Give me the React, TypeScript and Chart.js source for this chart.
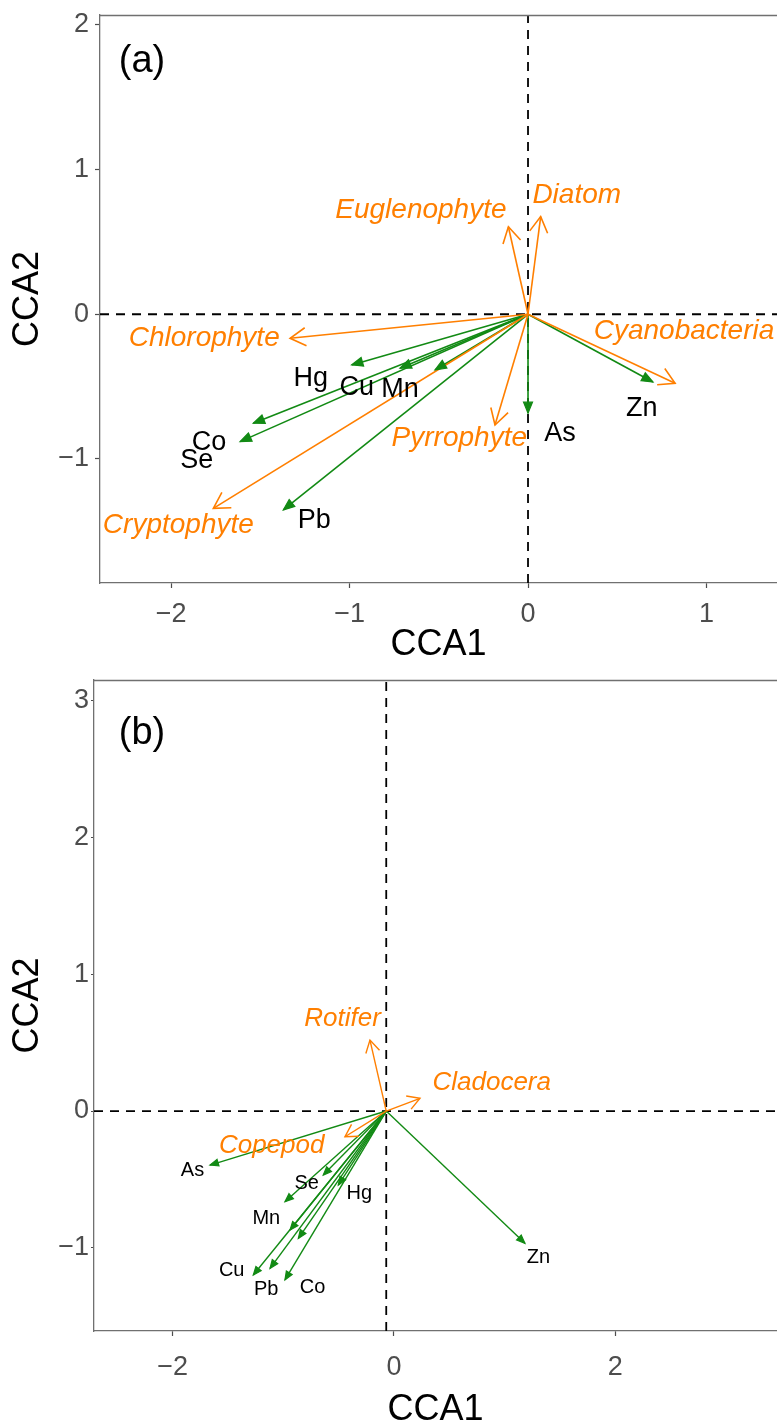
import React, { useEffect, useRef } from 'react';
import { Chart, registerables } from 'chart.js';

Chart.register(...registerables);

// ---------------- Panel (a): phytoplankton ----------------
const A_SPECIES_NAMES = ['Diatom', 'Euglenophyte', 'Cyanobacteria', 'Chlorophyte', 'Cryptophyte', 'Pyrrophyte'];
const A_SPECIES_X = [0.071, -0.110, 0.824, -1.333, -1.763, -0.185];
const A_SPECIES_Y = [0.675, 0.605, -0.477, -0.166, -1.341, -0.765];
const A_SPECIES_LABEL_X = [0.273, -0.600, 0.874, -1.814, -1.959, -0.385];
const A_SPECIES_LABEL_Y = [0.825, 0.721, -0.120, -0.166, -1.456, -0.855];

const A_ENV_NAMES = ['Hg', 'Cu', 'Mn', 'Co', 'Se', 'Pb', 'As', 'Zn'];
const A_ENV_X = [-0.988, -0.717, -0.521, -1.539, -1.613, -1.371, 0.0, 0.700];
const A_ENV_Y = [-0.350, -0.373, -0.385, -0.753, -0.880, -1.352, -0.684, -0.468];
const A_ENV_LABEL_X = [-1.217, -0.960, -0.717, -1.787, -1.856, -1.197, 0.179, 0.637];
const A_ENV_LABEL_Y = [-0.447, -0.509, -0.523, -0.886, -1.014, -1.422, -0.822, -0.650];

// ---------------- Panel (b): zooplankton ----------------
const B_SPECIES_NAMES = ['Rotifer', 'Cladocera', 'Copepod'];
const B_SPECIES_X = [-0.217, 0.235, -0.443];
const B_SPECIES_Y = [0.519, 0.093, -0.188];
const B_SPECIES_LABEL_X = [-0.465, 0.883, -1.105];
const B_SPECIES_LABEL_Y = [0.673, 0.208, -0.255];

const B_ENV_NAMES = ['As', 'Se', 'Hg', 'Mn', '', '', 'Cu', 'Pb', 'Co', 'Zn'];
const B_ENV_X = [-1.662, -0.639, -0.503, -0.985, -0.939, -0.864, -1.271, -1.120, -0.985, 1.183];
const B_ENV_Y = [-0.395, -0.468, -0.541, -0.663, -0.870, -0.931, -1.199, -1.150, -1.235, -0.967];
const B_ENV_LABEL_X = [-1.820, -0.789, -0.314, -1.153, -0.939, -0.864, -1.466, -1.155, -0.736, 1.304];
const B_ENV_LABEL_Y = [-0.435, -0.529, -0.602, -0.789, -0.870, -0.931, -1.168, -1.306, -1.290, -1.067];

const B_ORIGIN_X = -0.07;

const ORANGE = '#FF7F00';
const GREEN = '#128A14';
const BORDER = '#707070';
const TICK = '#4D4D4D';
const FAMILY = '"Liberation Sans", Arial, Helvetica, sans-serif';

type ArrowSet = { names: string[]; x: number[]; y: number[]; lx: number[]; ly: number[] };

interface PanelCfg {
  top: number;
  height: number;
  xMin: number; xMax: number; yMin: number; yMax: number;
  xStep: number; yStep: number;
  originX: number; originY: number;
  species: ArrowSet;
  env: ArrowSet;
  tag: string; tagX: number; tagY: number;
  padTop: number; yAxisWidth: number; xAxisHeight: number;
  speciesFont: number; envFont: number;
  speciesHead: number; envHead: number;
  lineWidth: number;
  xTickPad: number; yTickPad: number; yTickLen: number;
  xTitlePadBottom: number;
}

const fmt = (v: any) => {
  const n = Number(v);
  return n < 0 ? '\u2212' + Math.abs(n) : String(n);
};

function drawHead(ctx: CanvasRenderingContext2D, x0: number, y0: number, x1: number, y1: number,
  len: number, angleDeg: number, closed: boolean, color: string, lw: number) {
  const a = Math.atan2(y1 - y0, x1 - x0);
  const t = (angleDeg * Math.PI) / 180;
  const xa = x1 - len * Math.cos(a - t);
  const ya = y1 - len * Math.sin(a - t);
  const xb = x1 - len * Math.cos(a + t);
  const yb = y1 - len * Math.sin(a + t);
  ctx.beginPath();
  ctx.moveTo(xa, ya);
  ctx.lineTo(x1, y1);
  ctx.lineTo(xb, yb);
  if (closed) {
    ctx.closePath();
    ctx.fillStyle = color;
    ctx.fill();
  }
  ctx.strokeStyle = color;
  ctx.lineWidth = lw;
  ctx.lineJoin = 'miter';
  ctx.stroke();
}

const zeroPad = (s: any) => {
  s.paddingTop = 0;
  s.paddingBottom = 0;
  s.paddingLeft = 0;
  s.paddingRight = 0;
};

function Panel({ cfg }: { cfg: PanelCfg }) {
  const ref = useRef<HTMLCanvasElement>(null);
  useEffect(() => {
    const canvas = ref.current;
    if (!canvas) return;
    const { species, env } = cfg;
    const datasets: any[] = [];
    const dashed = { borderColor: '#000', borderWidth: 1.8, borderDash: [9, 7], showLine: true, pointRadius: 0, order: 30 };
    datasets.push({ ...dashed, data: [{ x: cfg.xMin, y: cfg.originY }, { x: cfg.xMax, y: cfg.originY }] });
    datasets.push({ ...dashed, data: [{ x: cfg.originX, y: cfg.yMin }, { x: cfg.originX, y: cfg.yMax }] });
    env.x.forEach((vx, i) => {
      datasets.push({
        data: [{ x: cfg.originX, y: cfg.originY }, { x: vx, y: env.y[i] }],
        borderColor: GREEN, borderWidth: cfg.lineWidth, showLine: true, pointRadius: 0, order: 20,
      });
    });
    species.x.forEach((vx, i) => {
      datasets.push({
        data: [{ x: cfg.originX, y: cfg.originY }, { x: vx, y: species.y[i] }],
        borderColor: ORANGE, borderWidth: cfg.lineWidth, showLine: true, pointRadius: 0, order: 10,
      });
    });

    const plugin = {
      id: 'biplotDecor',
      afterDatasetsDraw(chart: any) {
        const { ctx, chartArea } = chart;
        const xs = chart.scales.x;
        const ys = chart.scales.y;
        ctx.save();
        // top border
        ctx.strokeStyle = BORDER;
        ctx.lineWidth = 1.3;
        ctx.beginPath();
        ctx.moveTo(chartArea.left, chartArea.top + 0.5);
        ctx.lineTo(chartArea.right, chartArea.top + 0.5);
        ctx.stroke();
        const ox = xs.getPixelForValue(cfg.originX);
        const oy = ys.getPixelForValue(cfg.originY);
        env.x.forEach((vx, i) => {
          const px = xs.getPixelForValue(vx);
          const py = ys.getPixelForValue(env.y[i]);
          drawHead(ctx, ox, oy, px, py, cfg.envHead, 22, true, GREEN, 1.2);
        });
        species.x.forEach((vx, i) => {
          const px = xs.getPixelForValue(vx);
          const py = ys.getPixelForValue(species.y[i]);
          drawHead(ctx, ox, oy, px, py, cfg.speciesHead, 30, false, ORANGE, cfg.lineWidth);
        });
        ctx.textAlign = 'center';
        ctx.textBaseline = 'middle';
        ctx.fillStyle = ORANGE;
        ctx.font = `italic ${cfg.speciesFont}px ${FAMILY}`;
        species.names.forEach((n, i) => {
          if (!n) return;
          ctx.fillText(n, xs.getPixelForValue(species.lx[i]), ys.getPixelForValue(species.ly[i]));
        });
        ctx.fillStyle = '#000';
        ctx.font = `${cfg.envFont}px ${FAMILY}`;
        env.names.forEach((n, i) => {
          if (!n) return;
          ctx.fillText(n, xs.getPixelForValue(env.lx[i]), ys.getPixelForValue(env.ly[i]));
        });
        ctx.font = `38px ${FAMILY}`;
        ctx.fillText(cfg.tag, xs.getPixelForValue(cfg.tagX), ys.getPixelForValue(cfg.tagY));
        ctx.restore();
      },
    };

    const chart = new Chart(canvas, {
      type: 'scatter',
      data: { datasets },
      options: {
        responsive: false,
        animation: false,
        devicePixelRatio: 1,
        events: [],
        layout: { padding: { top: cfg.padTop, left: 0, right: 0, bottom: 0 } },
        elements: { line: { tension: 0, borderCapStyle: 'butt' } },
        plugins: { legend: { display: false }, tooltip: { enabled: false } },
        scales: {
          x: {
            type: 'linear',
            position: 'bottom',
            min: cfg.xMin,
            max: cfg.xMax,
            afterFit: (s: any) => { s.height = cfg.xAxisHeight; zeroPad(s); },
            ticks: {
              stepSize: cfg.xStep, includeBounds: false, autoSkip: false, maxRotation: 0,
              color: TICK, font: { family: FAMILY, size: 27 }, padding: cfg.xTickPad, callback: fmt,
            },
            grid: { drawOnChartArea: false, drawTicks: true, tickLength: 5, tickColor: TICK, tickWidth: 1.2 },
            border: { display: true, color: BORDER, width: 1.3 },
            title: {
              display: true, text: 'CCA1', color: '#000',
              font: { family: FAMILY, size: 36 }, padding: { top: 0, bottom: cfg.xTitlePadBottom },
            },
          },
          y: {
            type: 'linear',
            position: 'left',
            min: cfg.yMin,
            max: cfg.yMax,
            afterFit: (s: any) => { s.width = cfg.yAxisWidth; zeroPad(s); },
            ticks: {
              stepSize: cfg.yStep, includeBounds: false, autoSkip: false,
              color: TICK, font: { family: FAMILY, size: 27 }, padding: cfg.yTickPad, callback: fmt,
            },
            grid: { drawOnChartArea: false, drawTicks: true, tickLength: cfg.yTickLen, tickColor: TICK, tickWidth: 1.2 },
            border: { display: true, color: BORDER, width: 1.3 },
            title: {
              display: true, text: 'CCA2', color: '#000',
              font: { family: FAMILY, size: 36 }, padding: { top: 6, bottom: 0 },
            },
          },
        },
      } as any,
      plugins: [plugin],
    });
    return () => chart.destroy();
  }, [cfg]);
  return (
    <canvas
      ref={ref}
      width={777}
      height={cfg.height}
      style={{ position: 'absolute', left: 0, top: cfg.top, width: 777, height: cfg.height, display: 'block' }}
    />
  );
}

const PANEL_A: PanelCfg = {
  top: 0, height: 667,
  xMin: -2.398, xMax: 1.395, yMin: -1.857, yMax: 2.068,
  xStep: 1, yStep: 1,
  originX: 0, originY: 0,
  species: { names: A_SPECIES_NAMES, x: A_SPECIES_X, y: A_SPECIES_Y, lx: A_SPECIES_LABEL_X, ly: A_SPECIES_LABEL_Y },
  env: { names: A_ENV_NAMES, x: A_ENV_X, y: A_ENV_Y, lx: A_ENV_LABEL_X, ly: A_ENV_LABEL_Y },
  tag: '(a)', tagX: -2.163, tagY: 1.744,
  padTop: 15, yAxisWidth: 100, xAxisHeight: 84,
  speciesFont: 28, envFont: 27,
  speciesHead: 18, envHead: 12,
  lineWidth: 1.6,
  xTickPad: 10, yTickPad: 6, yTickLen: 5,
  xTitlePadBottom: 0,
};

const PANEL_B: PanelCfg = {
  top: 667, height: 773,
  xMin: -2.710, xMax: 3.460, yMin: -1.608, yMax: 3.151,
  xStep: 2, yStep: 1,
  originX: B_ORIGIN_X, originY: 0,
  species: { names: B_SPECIES_NAMES, x: B_SPECIES_X, y: B_SPECIES_Y, lx: B_SPECIES_LABEL_X, ly: B_SPECIES_LABEL_Y },
  env: { names: B_ENV_NAMES, x: B_ENV_X, y: B_ENV_Y, lx: B_ENV_LABEL_X, ly: B_ENV_LABEL_Y },
  tag: '(b)', tagX: -2.276, tagY: 2.763,
  padTop: 13, yAxisWidth: 94, xAxisHeight: 109,
  speciesFont: 26, envFont: 20,
  speciesHead: 14, envHead: 9,
  lineWidth: 1.4,
  xTickPad: 15, yTickPad: 2, yTickLen: 3,
  xTitlePadBottom: 8,
};

export default function App() {
  return (
    <div style={{ position: 'absolute', left: 0, top: 0, width: 777, height: 1423, overflow: 'hidden', background: '#fff' }}>
      <Panel cfg={PANEL_A} />
      <Panel cfg={PANEL_B} />
    </div>
  );
}
